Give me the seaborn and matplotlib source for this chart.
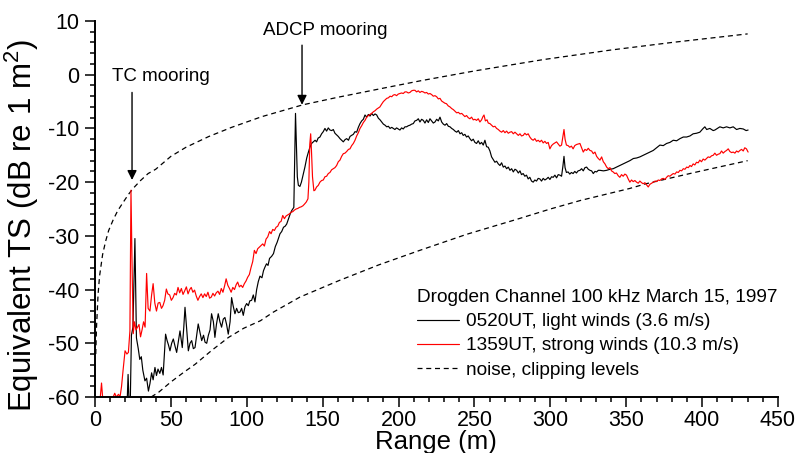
import matplotlib
matplotlib.use("Agg")
import matplotlib.pyplot as plt
import seaborn as sns
import pandas as pd
from matplotlib.ticker import MultipleLocator

# ---------------- data ----------------
black_x = [20, 21.3, 21.8, 22.3, 23.3, 24, 25, 26.3, 27.3, 28.5, 29.5, 30.5, 31.5, 32.9, 34, 35.2, 36.2, 37.3, 38.3, 39.5,
           40.5, 41.5, 42.7, 43.8, 44.9, 46.5, 47.5, 48.4, 49.4, 50.5, 51.6, 52.7, 53.8, 55, 56, 57.5, 58.5, 59.3, 60.3,
           61.5, 62.6, 63.7, 64.8, 65.9, 67, 68, 69.2, 70.3, 71.5, 72.5, 73.6, 74.7, 75.8, 76.8, 78, 79, 80, 81.2, 82.3,
           83.4, 84.5, 85.6, 86.7, 87.8, 89, 90, 91, 92.2, 93.3, 94.4, 95.5, 96.6, 97.7, 98.8, 99.9, 101, 102, 103.2,
           104.3, 105.4, 106.5, 107.6, 108.7, 110, 111, 112, 113, 114, 115, 116.4, 117.6, 118.8, 120, 121.9, 123, 124.2,
           125.3, 126.3, 127.5, 128.5, 129.6, 131, 131.6, 132.1, 132.6, 133.3, 134, 135, 136, 137.2, 138.3, 139.5, 140.5,
           141.6, 142.7, 143.8, 145, 146, 147, 148.2, 149.3, 150.4, 151.5, 152.6, 153.7, 154.8, 156, 157, 158.1, 159.2,
           160.3, 161.4, 162.5, 163.6, 164.7, 165.8, 167, 168, 169, 170.2, 171.3, 172.4, 173.5, 174.6, 175.7, 176.8,
           177.9, 179, 180.1, 181.2, 182.3, 183.4, 184.5, 185.6, 186.7, 187.8, 188.9, 190, 191.1, 192.2, 193.3, 194.4,
           195.5, 196.5, 197.6, 198.7, 199.8, 200.9, 202, 203.1, 204.2, 205.3, 206.4, 207.5, 208.6, 209.7, 210.8, 211.9,
           213, 214.1, 215.2, 216.3, 217.4, 218.5, 219.6, 220.7, 221.8, 222.9, 224, 225.1, 226.2, 227.3, 228.4, 229.5,
           230.6, 231.7, 232.8, 233.9, 235, 236.1, 237.2, 238.3, 239.4, 240.5, 241.6, 242.6, 243.7, 244.8, 245.9, 247,
           248.1, 249.2, 250.3, 251.4, 252.5, 253.6, 254.7, 255.8, 256.9, 258, 259.1, 260.2, 261.3, 262.4, 263.5, 264.6,
           265.7, 266.8, 267.9, 269, 270.1, 271.2, 272.3, 273.4, 274.5, 275.6, 276.7, 277.8, 278.9, 280, 281, 282.1,
           283.2, 284.3, 285.4, 286.5, 287.6, 288.7, 289.8, 290.9, 292, 293.1, 294.2, 295.3, 296.4, 297.5, 298.6, 299.7,
           300.8, 301.9, 303, 304.1, 305.2, 306.3, 307.4, 308.3, 309, 309.7, 310.6, 311.7, 312.8, 313.9, 315, 316.1,
           317.2, 318.3, 319.5, 320.6, 321.7, 322.8, 323.9, 325, 326.1, 327.2, 328.3, 329.4, 330.5, 331.6, 332.7, 335,
           337.1, 339.3, 341.4, 343.6, 345.8, 348, 350.2, 352.4, 354.7, 356.9, 359, 361.2, 363.4, 365.6, 367.8, 370,
           372.2, 374.4, 376.6, 378.8, 381, 383.2, 385.4, 387.6, 389.8, 392, 394.1, 396.3, 398.5, 400.7, 401.8, 403,
           405.1, 407.3, 408.4, 410.6, 411.7, 413.9, 416.1, 418.3, 420.5, 422.7, 424.9, 427.1, 429, 430.3]
black_y = [-60, -60, -55.8, -60, -60, -48.5, -47, -30.5, -49, -51, -53, -52.5, -55, -57, -56.5, -58.9, -57.5, -55.5, -56.8, -54.5,
           -56, -54.8, -55.6, -54.5, -55.9, -48.3, -49.5, -50.3, -51.4, -50, -49.2, -50.5, -51.7, -49.5, -47.7, -50.8, -47, -43.3, -47,
           -51.4, -50, -49.5, -51, -50.8, -48.5, -46.4, -48, -49.5, -48.5, -49.8, -50, -48.5, -47.5, -44.5, -46, -48.9, -46.5, -44.5, -46,
           -47, -45.5, -45.2, -46.5, -48.3, -46, -41.5, -43, -44.5, -43.5, -44.3, -44.2, -43.5, -44.8, -43.2, -42.6, -43, -42.1, -42,
           -41, -42.3, -40, -38.5, -37.5, -37.8, -36.5, -35.8, -35.2, -35.5, -34.2, -33.8, -33.3, -32, -31.2, -29.6, -29.2, -28.4,
           -28.2, -27.8, -26.8, -26, -25.3, -24.7, -15, -7.2, -12, -19, -20.6, -20.8, -20, -18.5, -17.2, -15.5, -14.5,
           -13.5, -12.8, -12.5, -12.2, -12.5, -11.8, -11.6, -11, -10.6, -10, -10.5, -9.9, -10.3, -10.4, -10.2, -10.9, -11.2,
           -11.5, -11.9, -12.2, -12.5, -12.1, -11.9, -12.2, -11.5, -11.3, -11.1, -10.6, -10.7, -9.8, -9.1, -8.6, -8.3,
           -7.5, -7.9, -7.4, -7.7, -7.2, -7.6, -7.3, -7.5, -8.1, -8.4, -8.8, -9.2, -9.4, -9.7, -9.6, -10,
           -9.8, -10, -10.2, -9.9, -10.1, -10.3, -9.9, -10.1, -9.7, -9.7, -9.5, -9.4, -9.2, -9.1, -8.6, -8.5,
           -8.2, -8.8, -8.3, -8.5, -9, -8.4, -8.9, -8.2, -8.6, -9, -8.8, -8.3, -8.6, -7.9, -8.8, -9.2,
           -9.4, -9.1, -9.6, -9.7, -10, -10.2, -10.5, -10.7, -10.4, -11, -10.8, -11.3, -11.1, -11.6, -11.4, -11.9,
           -12.3, -12, -12.6, -12.8, -12.3, -12.9, -12.6, -13.1, -12.2, -13.4, -13.5, -14.2, -15.3, -15.8, -16.3, -16.1,
           -16.6, -16.9, -16.4, -17.2, -17, -17.5, -17.2, -17.8, -17.5, -18.1, -17.6, -17.8, -18.3, -17.9, -18.6, -18.4,
           -18.9, -18.7, -19.4, -19.1, -19.8, -20, -19.6, -19.8, -19.3, -19.4, -19.8, -19.3, -19.6, -19.4, -19.1, -19.5,
           -19, -19.1, -18.7, -19.2, -18.6, -18.7, -18.9, -17, -15.2, -17.3, -18.2, -18.1, -18.5, -18.2, -18.4, -18,
           -18.3, -17.9, -17.8, -17.5, -17.9, -17.3, -17.2, -17.6, -17.8, -17.9, -18.4, -18, -18.1, -17.8, -17.8, -17.9,
           -17.8, -17.6, -17.5, -17.2, -16.9, -16.6, -16.3, -16, -15.6, -15.5, -15.3, -15, -14.7, -14.4, -14.1, -13.6,
           -13.1, -13.2, -12.8, -12.6, -12.2, -12.3, -11.9, -11.6, -11.6, -11.4, -11, -10.9, -10.7, -10, -9.7, -10.2,
           -10, -10.4, -10.3, -9.9, -9.7, -9.9, -9.7, -9.9, -9.7, -10.2, -10, -10.1, -10.4, -10.3]

red_x = [3.5, 4.3, 5, 12, 13, 14, 15.5, 16.5, 17.5, 18.5, 19.8, 21, 22, 23, 23.7, 24.4, 25.2, 26, 27, 28, 29, 30, 31, 32, 33,
         34, 35, 36.2, 37.3, 38.3, 39.4, 40.5, 41.6, 42.7, 43.8, 44.8, 45.9, 47, 48, 49.2, 50.3, 51.4, 52.5, 53.6, 54.7,
         55.8, 56.9, 58, 59, 60.2, 61.3, 62.4, 63.4, 64.5, 65.6, 66.7, 67.8, 68.9, 70, 71.1, 72.2, 73.3, 74.4, 75.5, 76.6,
         77.7, 78.8, 79.9, 81, 82.1, 83.2, 84.3, 85.4, 86.4, 87.5, 88.6, 89.7, 90.8, 91.9, 93, 94, 95.1, 96.2, 97.3, 98.4,
         99.5, 100.6, 101.7, 102.8, 103.9, 105, 106.1, 107.2, 108.3, 109.4, 110.5, 111.6, 112.7, 113.8, 115, 116, 117.1,
         118.2, 119.3, 120.4, 121.5, 122.6, 123.7, 124.8, 125.9, 127, 128.1, 129.2, 130.3, 131.4, 132.5, 133.6, 134.7,
         135.8, 137, 138, 139.2, 140.3, 140.9, 141.5, 142.1, 142.6, 143.3, 144.2, 144.9, 146, 147.1, 148.2, 149.3, 150.4,
         151.5, 152.6, 153.7, 154.8, 155.9, 157, 158.1, 159.2, 160.3, 161.4, 162.5, 163.6, 164.7, 165.8, 167, 168, 169.1,
         170.2, 171.3, 172.4, 173.5, 174.6, 175.7, 176.8, 177.9, 179, 180.1, 181.2, 182.3, 183.4, 184.5, 185.6, 186.7,
         187.7, 188.8, 190, 191.1, 192.2, 193.3, 194.4, 195.5, 196.5, 197.6, 198.7, 199.8, 200.9, 202, 203.1, 204.2,
         205.3, 206.4, 207.5, 208.6, 209.7, 210.8, 211.9, 213, 214.1, 215.2, 216.3, 217.4, 218.5, 219.6, 220.7, 221.8,
         222.9, 224, 225.1, 226.2, 227.3, 228.4, 229.4, 230.5, 231.6, 232.7, 233.9, 235, 236.1, 237.2, 238.3, 239.4,
         240.5, 241.6, 242.6, 243.7, 244.8, 245.9, 247, 248.1, 249.2, 250.3, 251.4, 252.5, 253.6, 254.7, 255.6, 256.3,
         257.2, 258.3, 259.1, 260.2, 261.3, 262.4, 263.5, 264.6, 265.7, 266.8, 267.9, 269, 270.1, 271.2, 272.3, 273.4,
         274.5, 275.6, 276.7, 277.8, 278.9, 280, 281, 282.1, 283.2, 284.3, 285.4, 286.5, 287.6, 288.7, 289.8, 290.9,
         292, 293.1, 294.2, 295.3, 296.4, 297.5, 298.6, 299.7, 300.8, 301.9, 303, 304.1, 305.2, 306.3, 307.4, 308.3,
         309, 309.7, 310.6, 311.7, 312.8, 313.9, 315, 316.1, 317.2, 318.3, 319.5, 320.6, 321.7, 322.8, 323.9, 325,
         326.1, 327.2, 328.3, 329.4, 330.5, 331.6, 332.7, 333.8, 334.9, 336, 337.1, 338.2, 339.3, 340.3, 341.4, 342.5,
         343.6, 344.7, 345.8, 346.9, 348, 349.1, 350.2, 351.3, 352.4, 353.5, 354.6, 355.7, 356.8, 357.9, 359, 360.1,
         361.2, 362.3, 363.4, 364.5, 365.6, 366.7, 367.8, 369, 370, 371.1, 372.2, 373.3, 374.4, 375.5, 376.6, 377.7,
         378.8, 380, 381, 382.1, 383.2, 384.3, 385.4, 386.5, 387.6, 388.7, 389.8, 390.9, 392, 393, 394.1, 395.2,
         396.3, 397.4, 398.5, 399.6, 400.7, 401.8, 402.9, 404, 405.1, 406.2, 407.3, 408.4, 409.5, 410.6, 411.7, 412.8,
         413.9, 415, 416.1, 417.2, 418.3, 419.4, 420.5, 421.6, 422.7, 423.8, 424.9, 426, 427.1, 428.1, 429.2, 430.3]
red_y = [-60, -57.4, -60, -60, -59.3, -60, -59.5, -60, -58, -55, -51.4, -52, -51.7, -47.7, -21.5, -35, -48.2, -46, -47.5, -47, -46.5, -48.8, -47.5, -46, -47,
         -37, -43.5, -44, -41, -38.9, -42.5, -44, -42.5, -42.4, -43.5, -43, -42, -39.9, -40.8, -41, -42, -41.5, -40.7, -41, -39.6,
         -40.6, -39.8, -40.9, -40.3, -39.5, -40.8, -40, -39.6, -40.5, -40.1, -41.2, -42, -41.3, -40.8, -41.5, -40.8, -41.3, -40.5, -41.6, -41.4,
         -40.7, -41.2, -40.6, -40.3, -40.9, -39.8, -40.5, -39.3, -38, -39.2, -39.8, -40.5, -39.6, -40, -39.1, -38.6, -39.5, -39.2, -39.6, -38.9,
         -38.4, -37.7, -37.2, -35.9, -34.8, -32.7, -33.3, -32.4, -32.1, -31.8, -31.5, -31.9, -30.6, -30.2, -29.2, -29.6, -28.8,
         -29, -28.4, -28.2, -27.5, -27.3, -26.2, -26.8, -26.3, -26.1, -25.9, -25.6, -25.5, -25.2, -25, -24.9, -24.7,
         -24.6, -24.4, -24.1, -23.7, -23.1, -20, -13, -11, -14, -19, -21.6, -21.5, -20.9, -20.6, -20, -19.7, -19.6,
         -19, -18.9, -18.4, -18.2, -17.7, -17.5, -17.3, -16.9, -16.2, -15.9, -15.2, -14.7, -14.6, -14.3, -13.9, -13.8, -13.2,
         -12.8, -12.2, -11.4, -10.8, -10, -9.5, -8.9, -8.5, -7.9, -7.6, -7.4, -7.2, -6.9, -6.7, -6.4, -6.2,
         -6, -5.5, -5, -4.7, -4.4, -4.3, -4, -4.1, -3.8, -3.7, -3.9, -3.6, -3.5, -3.4, -3.5, -3.2,
         -3.2, -3.4, -3.3, -3, -2.9, -2.9, -3.2, -3, -3.3, -3.1, -3.2, -3.4, -3.3, -3.6, -3.5, -3.7,
         -4, -3.9, -4.1, -4.5, -4.4, -4.9, -5.1, -5.3, -5.4, -5.8, -6, -6.3, -6.5, -6.8, -7.1, -7,
         -7.3, -7.2, -7.5, -7.8, -7.6, -8, -8.2, -7.9, -8.4, -8.3, -8.5, -8.2, -8.8, -8.4, -7.8, -7.5,
         -8.6, -8.4, -9, -9.1, -9.4, -9.7, -9.6, -10, -10.2, -10.5, -10.7, -10.4, -10.8, -10.5, -10.9, -10.7,
         -10.6, -11, -10.7, -11, -11.3, -11, -11.4, -11.3, -10.9, -11.2, -11, -11.6, -12, -12.2, -11.9, -12.4,
         -12.2, -12.5, -12.2, -12.7, -12.4, -12.8, -12.6, -13.8, -13.2, -12.9, -12.7, -12.5, -12.9, -13.3, -13.1, -11.5,
         -10.2, -12, -13.1, -13.2, -13.5, -13.3, -13.8, -13.2, -13, -12.9, -12.8, -13.6, -14.4, -13.9, -14.1, -13.7,
         -14.1, -14.2, -14.7, -14.4, -15.2, -15.6, -15.9, -15.3, -16.2, -16.6, -17.2, -17.5, -17.3, -17.9, -18.1, -18.4,
         -18.3, -18.8, -19.1, -18.6, -18.9, -18.5, -18.7, -19.4, -20, -19.6, -19.9, -19.7, -20, -20.2, -19.8, -20.1,
         -20.3, -20.1, -20.5, -20.9, -20.4, -20.2, -20, -19.8, -19.9, -19.6, -19.7, -19.4, -19.3, -19.5, -19.1, -18.8,
         -18.9, -18.6, -18.4, -18.5, -18.1, -18.2, -17.8, -17.9, -17.5, -17.6, -17.2, -17.3, -16.9, -17.1, -16.6, -16.8,
         -16.3, -16.4, -15.9, -16.2, -15.7, -15.9, -15.6, -15.3, -15.4, -15.1, -15, -14.6, -15, -14.8, -14.7, -14.2,
         -14.6, -14.3, -14.1, -13.8, -14.3, -14.5, -14.4, -14.6, -14.2, -14.4, -14.1, -13.9, -14.2, -13.6, -13.8, -14.4]

clip_x = [0.5, 1, 2, 3, 5, 7, 9, 12, 15, 18, 22, 25, 30, 35, 40, 50, 60, 75, 90, 110, 137, 160, 190, 215, 250, 295, 340, 380, 430]
clip_y = [-52, -47, -41, -37.5, -33.5, -31, -29, -27, -25.3, -24, -22.3, -21.2, -19.7, -18.4, -17.6, -15.2, -13.5, -11.5, -9.8,
          -7.8, -5.6, -4.2, -2.5, -1.1, 0.7, 2.8, 4.6, 6.0, 7.6]
noise_x = [37, 42, 50, 58, 66, 77, 88, 98, 109, 117.5, 135, 161, 187, 214, 245, 277, 300, 320, 352, 363, 395, 430]
noise_y = [-60, -59.1, -57.2, -55.5, -53.9, -51.3, -48.9, -47.2, -45.8, -44.2, -41.4, -38.3, -35.4, -32.7, -29.7, -27, -25, -23.4,
           -21.2, -20.3, -18.2, -16]

legend_title = "Drogden Channel 100 kHz March 15, 1997"
label_black = "0520UT, light winds (3.6 m/s)"
label_red = "1359UT, strong winds (10.3 m/s)"
label_dash = "noise, clipping levels"

# ---------------- plot ----------------
sns.set_style("ticks")
plt.rcParams["font.family"] = ["Liberation Sans", "DejaVu Sans"]
plt.rcParams["axes.unicode_minus"] = False
plt.rcParams["mathtext.fontset"] = "custom"
plt.rcParams["mathtext.rm"] = "Liberation Sans"
plt.rcParams["mathtext.it"] = "Liberation Sans:italic"
for k in ["text.color", "axes.labelcolor", "xtick.color", "ytick.color", "xtick.labelcolor", "ytick.labelcolor"]:
    plt.rcParams[k] = "black"

fig = plt.figure(figsize=(8.0, 4.53), dpi=100)
ax = fig.add_axes([95 / 800, 1 - 397 / 453, (778 - 95) / 800, (397 - 21) / 453])

dash = (0, (4, 3))
df_clip = pd.DataFrame({"x": clip_x, "y": clip_y})
df_noise = pd.DataFrame({"x": noise_x, "y": noise_y})
df_black = pd.DataFrame({"x": black_x, "y": black_y})
df_red = pd.DataFrame({"x": red_x, "y": red_y})

sns.lineplot(data=df_clip, x="x", y="y", ax=ax, sort=False, estimator=None, color="black", lw=0.9)
sns.lineplot(data=df_noise, x="x", y="y", ax=ax, sort=False, estimator=None, color="black", lw=0.9)
sns.lineplot(data=df_black, x="x", y="y", ax=ax, sort=False, estimator=None, color="black", lw=0.85)
sns.lineplot(data=df_red, x="x", y="y", ax=ax, sort=False, estimator=None, color="#ff0000", lw=0.85)
lines = ax.get_lines()
lines[0].set_linestyle(dash)
lines[1].set_linestyle(dash)

ax.set_xlim(0, 450)
ax.set_ylim(-60, 10)
ax.xaxis.set_major_locator(MultipleLocator(50))
ax.xaxis.set_minor_locator(MultipleLocator(10))
ax.yaxis.set_major_locator(MultipleLocator(10))
ax.yaxis.set_minor_locator(MultipleLocator(2))
ax.tick_params(which="major", direction="out", length=7, width=1.1, labelsize=15.5, color="black", labelcolor="black")
ax.tick_params(which="minor", direction="out", length=3.6, width=1.1, color="black")
ax.tick_params(axis="x", which="major", pad=2.5)
ax.tick_params(axis="y", which="major", pad=4.3)
for s in ["top", "right"]:
    ax.spines[s].set_visible(False)
for s in ["left", "bottom"]:
    ax.spines[s].set_linewidth(1.4)
    ax.spines[s].set_color("black")

ax.set_xlabel("Range (m)", fontsize=18.5)
ax.xaxis.set_label_coords(0.4993, -0.089)
ax.set_ylabel("Equivalent TS (dB re 1 m$^2$)", fontsize=22.5)
ax.yaxis.set_label_coords(-0.079, 0.455)

ax.annotate("", xy=(24.4, -19.6), xytext=(24.4, -3.3),
            arrowprops=dict(arrowstyle="-|>", color="black", lw=1.0, mutation_scale=14, shrinkA=0, shrinkB=0))
ax.text(43.5, -0.3, "TC mooring", fontsize=13.5, ha="center", va="center")
ax.annotate("", xy=(136.4, -5.6), xytext=(136.4, 5.5),
            arrowprops=dict(arrowstyle="-|>", color="black", lw=1.0, mutation_scale=14, shrinkA=0, shrinkB=0))
ax.text(151.5, 8.3, "ADCP mooring", fontsize=13.5, ha="center", va="center")

ax.legend([lines[2], lines[3], lines[0]], [label_black, label_red, label_dash],
          title=legend_title, title_fontsize=13.7, fontsize=13.7, frameon=False,
          loc="upper left", bbox_to_anchor=(417 / 800, 1 - 289 / 453), bbox_transform=fig.transFigure,
          borderpad=0, borderaxespad=0, handlelength=2.2, handletextpad=0.35, labelspacing=0.36,
          alignment="left")

fig.savefig("out.png", dpi=100)
